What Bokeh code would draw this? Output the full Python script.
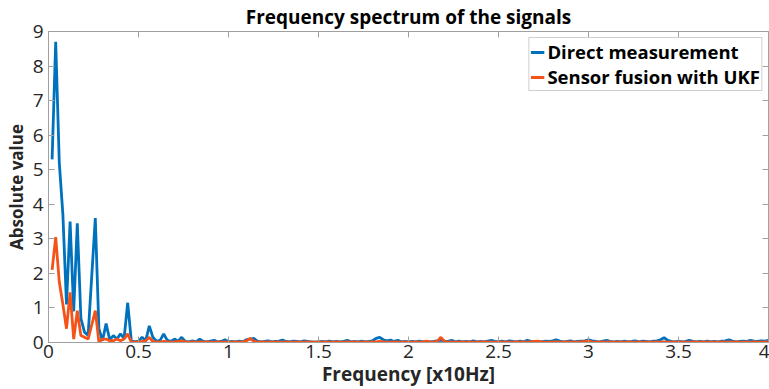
from bokeh.plotting import figure
from bokeh.models import Range1d, LinearAxis, FixedTicker, Legend, LegendItem
from bokeh.embed import file_html
from bokeh.resources import INLINE

# Frequency bins (x10 Hz)
freq = [round(0.02 * k, 2) for k in range(1, 201)]

# Spectrum magnitude of the directly measured signal
direct = [
    5.30, 8.70, 5.20, 3.70, 1.10, 3.50, 0.90, 3.45, 0.70, 0.30,
    0.20, 1.90, 3.60, 0.40, 0.05, 0.55, 0.08, 0.20, 0.10, 0.25,
    0.12, 1.15, 0.05, 0.02, 0.04, 0.15, 0.05, 0.48, 0.15, 0.04,
    0.06, 0.25, 0.06, 0.03, 0.10, 0.04, 0.15, 0.03, 0.02, 0.05,
    0.02, 0.10, 0.03, 0.02, 0.04, 0.06, 0.02, 0.03, 0.08, 0.02,
    0.03, 0.02, 0.04, 0.02, 0.08, 0.10, 0.12, 0.04, 0.02, 0.03,
    0.05, 0.02, 0.03, 0.04, 0.07, 0.03, 0.02, 0.04, 0.03, 0.02,
    0.05, 0.03, 0.02, 0.01, 0.02, 0.03, 0.02, 0.04, 0.02, 0.03,
    0.02, 0.03, 0.06, 0.02, 0.03, 0.02, 0.04, 0.02, 0.03, 0.05,
    0.12, 0.15, 0.08, 0.05, 0.07, 0.03, 0.06, 0.02, 0.03, 0.02,
    0.03, 0.02, 0.04, 0.02, 0.03, 0.02, 0.03, 0.05, 0.07, 0.04,
    0.03, 0.06, 0.02, 0.04, 0.02, 0.03, 0.02, 0.05, 0.02, 0.03,
    0.02, 0.04, 0.06, 0.03, 0.02, 0.04, 0.02, 0.05, 0.03, 0.02,
    0.04, 0.02, 0.06, 0.03, 0.02, 0.03, 0.02, 0.04, 0.03, 0.05,
    0.08, 0.04, 0.02, 0.03, 0.05, 0.02, 0.03, 0.04, 0.05, 0.08,
    0.05, 0.03, 0.02, 0.04, 0.06, 0.03, 0.02, 0.03, 0.02, 0.04,
    0.02, 0.03, 0.05, 0.02, 0.04, 0.03, 0.02, 0.04, 0.05, 0.08,
    0.14, 0.06, 0.03, 0.02, 0.04, 0.02, 0.03, 0.06, 0.03, 0.02,
    0.03, 0.02, 0.04, 0.02, 0.03, 0.02, 0.04, 0.05, 0.08, 0.04,
    0.02, 0.03, 0.04, 0.03, 0.06, 0.04, 0.03, 0.05, 0.04, 0.06,
]

# Spectrum magnitude after sensor fusion with the UKF
fused = [
    2.10, 3.05, 1.75, 1.10, 0.40, 1.45, 0.10, 0.92, 0.20, 0.15,
    0.10, 0.50, 0.92, 0.02, 0.10, 0.10, 0.05, 0.05, 0.10, 0.05,
    0.10, 0.25, 0.01, 0.01, 0.02, 0.03, 0.05, 0.15, 0.03, 0.02,
    0.01, 0.03, 0.02, 0.01, 0.02, 0.03, 0.05, 0.02, 0.01, 0.02,
    0.01, 0.02, 0.01, 0.02, 0.01, 0.01, 0.02, 0.01, 0.02, 0.01,
    0.01, 0.02, 0.01, 0.02, 0.05, 0.12, 0.04, 0.01, 0.02, 0.01,
    0.02, 0.01, 0.01, 0.02, 0.01, 0.02, 0.01, 0.01, 0.02, 0.01,
    0.01, 0.02, 0.01, 0.01, 0.02, 0.01, 0.02, 0.01, 0.01, 0.02,
    0.01, 0.01, 0.02, 0.01, 0.02, 0.01, 0.01, 0.02, 0.01, 0.02,
    0.02, 0.03, 0.02, 0.01, 0.01, 0.02, 0.01, 0.01, 0.02, 0.01,
    0.01, 0.02, 0.01, 0.02, 0.04, 0.02, 0.01, 0.04, 0.15, 0.03,
    0.01, 0.02, 0.01, 0.01, 0.02, 0.01, 0.02, 0.01, 0.01, 0.02,
    0.01, 0.02, 0.01, 0.01, 0.02, 0.01, 0.02, 0.01, 0.01, 0.02,
    0.01, 0.02, 0.01, 0.02, 0.03, 0.04, 0.02, 0.01, 0.01, 0.02,
    0.02, 0.01, 0.01, 0.02, 0.01, 0.02, 0.01, 0.02, 0.03, 0.05,
    0.02, 0.01, 0.01, 0.02, 0.01, 0.02, 0.01, 0.01, 0.02, 0.01,
    0.02, 0.01, 0.01, 0.02, 0.01, 0.01, 0.02, 0.01, 0.02, 0.01,
    0.02, 0.01, 0.01, 0.02, 0.01, 0.02, 0.01, 0.01, 0.02, 0.01,
    0.01, 0.02, 0.01, 0.02, 0.01, 0.01, 0.02, 0.01, 0.02, 0.01,
    0.02, 0.01, 0.01, 0.02, 0.01, 0.02, 0.01, 0.01, 0.02, 0.02,
]

x_ticks = [0, 0.5, 1, 1.5, 2, 2.5, 3, 3.5, 4]
x_tick_labels = ["0", "0.5", "1", "1.5", "2", "2.5", "3", "3.5", "4"]
y_ticks = [0, 1, 2, 3, 4, 5, 6, 7, 8, 9]

BLUE = "#0072BD"
ORANGE = "#F5521A"
FRAME = "#A0A0A0"
TEXT = "#262626"
FONT = "Open Sans"

p = figure(
    width=769, height=389, output_backend="svg", toolbar_location=None,
    x_range=Range1d(0, 4), y_range=Range1d(0, 9),
    min_border_left=48, min_border_right=1, min_border_top=0, min_border_bottom=47,
    x_axis_label="Frequency [x10Hz]", y_axis_label="Absolute value",
)
p.title.text = "Frequency spectrum of the signals"
p.title.align = "center"
p.title.text_font = FONT
p.title.text_font_size = "19px"
p.title.text_font_style = "bold"
p.title.text_color = "#000000"
p.title.standoff = 3

p.grid.visible = False
p.outline_line_color = FRAME
p.outline_line_width = 1
p.background_fill_color = "white"
p.border_fill_color = "white"

for ax in p.xaxis + p.yaxis:
    ax.axis_line_color = FRAME
    ax.major_tick_line_color = FRAME
    ax.major_tick_in = 6
    ax.major_tick_out = 0
    ax.minor_tick_line_color = None
    ax.major_label_text_font = FONT
    ax.major_label_text_font_size = "19px"
    ax.major_label_text_color = TEXT
    ax.axis_label_text_font = FONT
    ax.axis_label_text_font_style = "bold"
    ax.axis_label_text_color = TEXT

p.xaxis.ticker = FixedTicker(ticks=x_ticks)
p.xaxis.major_label_overrides = {t: s for t, s in zip(x_ticks, x_tick_labels)}
p.xaxis.major_label_standoff = 2
p.xaxis.axis_label_standoff = 0
p.xaxis.axis_label_text_font_size = "19px"
p.yaxis.ticker = FixedTicker(ticks=y_ticks)
p.yaxis.major_label_standoff = 5
p.yaxis.axis_label_standoff = 2
p.yaxis.axis_label_text_font_size = "17px"

# Mirror ticks on the top and right edges of the box (no labels drawn)
mirror = dict(major_label_text_font_size="1px", major_label_text_color=None,
              major_label_standoff=0, major_tick_in=6, major_tick_out=0,
              minor_tick_line_color=None, axis_line_color=FRAME,
              major_tick_line_color=FRAME)
top = LinearAxis(ticker=FixedTicker(ticks=x_ticks), **mirror)
right = LinearAxis(ticker=FixedTicker(ticks=y_ticks), **mirror)
p.add_layout(top, "above")
p.add_layout(right, "right")

r_direct = p.line(freq, direct, line_color=BLUE, line_width=2.8)
r_fused = p.line(freq, fused, line_color=ORANGE, line_width=2.8)

legend = Legend(
    items=[LegendItem(label="Direct measurement", renderers=[r_direct]),
           LegendItem(label="Sensor fusion with UKF", renderers=[r_fused])],
    location="top_right",
    label_text_font=FONT, label_text_font_size="18.5px", label_text_font_style="bold",
    label_text_color="#000000",
    glyph_width=14, glyph_height=20, label_height=20, label_standoff=3,
    spacing=0, padding=1, margin=6,
    border_line_color=FRAME, border_line_width=1,
    background_fill_color="white", background_fill_alpha=1.0,
)
p.add_layout(legend)

open("out.html", "w").write(file_html(p, INLINE))
